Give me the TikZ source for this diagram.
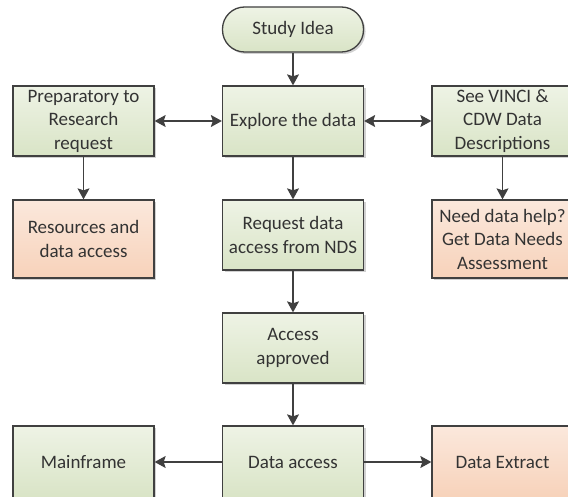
\documentclass[tikz,border=0pt]{standalone}
\usepackage{fontspec}
\setmainfont{Carlito}
\usepackage{tikz}
\usetikzlibrary{arrows.meta,shadows}

\definecolor{edgegray}{HTML}{404040}
\definecolor{textgray}{HTML}{333333}
\definecolor{greentop}{HTML}{EEF3E5}
\definecolor{greenbot}{HTML}{D9E4C6}
\definecolor{orangetop}{HTML}{FBE8DC}
\definecolor{orangebot}{HTML}{F7D2BA}

\tikzset{
  stepbox/.style={draw=edgegray, line width=1.3pt, minimum width=141pt,
    minimum height=70pt, inner sep=0pt, align=center, text=textgray,
    top color=greentop, bottom color=greenbot,
    drop shadow={fill=black, opacity=0.18, shadow xshift=2pt, shadow yshift=-2pt},
    font=\fontsize{19}{23.5}\selectfont},
  resbox/.style={stepbox, top color=orangetop, bottom color=orangebot},
  startbox/.style={stepbox, rounded corners=22pt, minimum height=45pt},
  flow/.style={draw=edgegray, line width=1.2pt, -{Stealth[length=11pt,width=12pt,inset=2pt]}},
  twoway/.style={draw=edgegray, line width=1.2pt,
    {Stealth[length=11pt,width=12pt,inset=2pt]}-{Stealth[length=11pt,width=12pt,inset=2pt]}}
}

\begin{document}
\begin{tikzpicture}[x=1pt,y=1pt]
      \useasboundingbox (0, 0) rectangle (568, -497);

      % start
      \node[startbox] (idea) at (293, -29.5) {Study Idea};

      % first row
      \node[stepbox] (prep)    at (83.5, -121) {Preparatory to\\Research\\request};
      \node[stepbox] (explore) at (293, -121)  {Explore the data};
      \node[stepbox] (vinci)   at (502.5, -121) {See VINCI \&\\CDW Data\\Descriptions};

      % second row
      \node[resbox, minimum height=78pt] (resources) at (83.5, -239) {Resources and\\data access};
      \node[stepbox] (request) at (293, -235) {Request data\\access from NDS};
      \node[resbox, minimum height=78pt] (help) at (502.5, -239) {Need data help?\\Get Data Needs\\Assessment};

      \node[stepbox] (approved) at (293, -348) {Access\\approved};

      % last row
      \node[stepbox, minimum height=72pt] (mainframe) at (83.5, -462) {Mainframe};
      \node[stepbox, minimum height=72pt] (access)    at (293, -462)  {Data access};
      \node[resbox, minimum height=72pt]  (extract)   at (502.5, -462) {Data Extract};

      \draw[flow] (idea) -- (explore);
      \draw[twoway] (prep) -- (explore);
      \draw[twoway] (explore) -- (vinci);
      \draw[flow] (prep) -- (resources);
      \draw[flow] (explore) -- (request);
      \draw[flow] (vinci) -- (help);
      \draw[flow] (request) -- (approved);
      \draw[flow] (approved) -- (access);
      \draw[flow] (access) -- (mainframe);
      \draw[flow] (access) -- (extract);

\end{tikzpicture}
\end{document}
